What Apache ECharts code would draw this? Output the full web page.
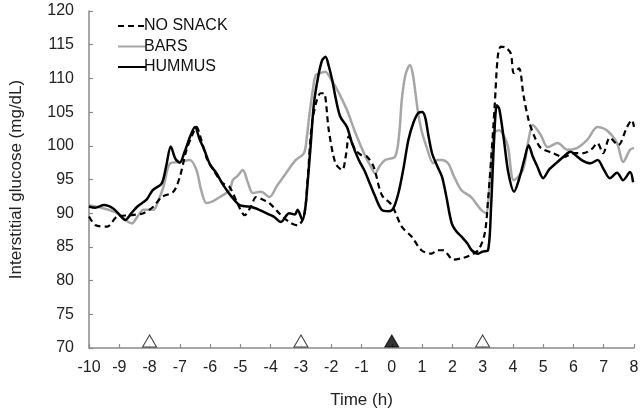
<!DOCTYPE html>
<html>
<head>
<meta charset="utf-8">
<script src="https://cdn.jsdelivr.net/npm/echarts@6/dist/echarts.min.js"></script>
<style>html,body{margin:0;padding:0;background:#fff}#c{width:642px;height:414px}</style>
</head>
<body>
<div id="c"></div>
<script>
// ---- data (time in h, glucose in mg/dL) ----
const noSnack = [[-10,89.5],[-9.78,88.2],[-9.4,88.0],[-9.07,89.5],[-8.63,89.7],[-8.2,90.0],[-7.87,91.0],[-7.6,92.4],[-7.21,93.2],[-7.0,95.4],[-6.78,99.4],[-6.6,101.5],[-6.45,102.8],[-6.3,101],[-6.1,98.0],[-5.9,96.5],[-5.6,94.5],[-5.36,93.9],[-5.1,91.5],[-4.86,89.7],[-4.65,91.0],[-4.48,92.4],[-4.25,92.0],[-4.04,91.5],[-3.72,90.0],[-3.39,88.7],[-3.11,88.2],[-2.9,89.5],[-2.78,95],[-2.62,103.8],[-2.35,107.8],[-2.24,107.8],[-2.08,102.3],[-1.86,97.4],[-1.64,96.4],[-1.5,99],[-1.42,101.4],[-1.2,99.4],[-1.0,98.6],[-0.82,98.4],[-0.6,96.9],[-0.33,92.7],[0.0,91.2],[0.33,88.0],[0.66,86.5],[0.98,84.5],[1.31,84.0],[1.5,84.5],[1.7,84.5],[2.03,83.1],[2.3,83.3],[2.52,83.6],[2.85,84.5],[3.07,87.0],[3.18,92],[3.28,97.9],[3.4,106],[3.5,113.2],[3.6,114.7],[3.75,114.6],[3.93,113.7],[4.03,110.8],[4.2,111.5],[4.35,107.5],[4.52,103.8],[4.7,101.5],[4.92,99.7],[5.34,98.9],[5.67,98.3],[6.0,98.9],[6.33,98.9],[6.6,99.5],[6.79,100.4],[6.98,98.9],[7.2,101.2],[7.48,100.1],[7.77,102.8],[7.93,103.8],[8.0,102.8]];
const bars = [[-10,91.2],[-9.51,90.7],[-9.07,90.0],[-8.8,89.0],[-8.58,88.5],[-8.4,89.5],[-8.2,90.5],[-7.87,90.5],[-7.7,92.0],[-7.54,93.9],[-7.32,97.4],[-7.0,97.6],[-6.67,97.9],[-6.45,96.4],[-6.3,93.5],[-6.12,91.5],[-5.9,91.8],[-5.68,92.4],[-5.36,93.4],[-5.25,94.9],[-5.1,95.5],[-4.92,96.4],[-4.75,94.5],[-4.59,93.0],[-4.32,93.2],[-4.04,92.4],[-3.8,94.0],[-3.5,95.9],[-3.17,97.9],[-2.9,98.9],[-2.8,101.5],[-2.73,104.3],[-2.6,108.5],[-2.51,110.5],[-2.35,110.8],[-2.19,111.0],[-2.0,109.8],[-1.8,108.3],[-1.48,105.3],[-1.2,101.9],[-0.87,98.4],[-0.7,97.0],[-0.55,95.9],[-0.4,97.0],[-0.22,97.9],[0.11,98.4],[0.25,102],[0.33,106.8],[0.45,110.5],[0.6,112.0],[0.7,110.5],[0.85,105.5],[0.98,102.3],[1.15,99.8],[1.37,97.4],[1.5,97.9],[1.64,97.9],[1.86,97.4],[2.05,95.5],[2.3,93.4],[2.62,92.4],[2.95,90.5],[3.11,90.0],[3.25,95.5],[3.38,101.9],[3.55,102.3],[3.7,101.5],[3.84,99.8],[4.03,94.9],[4.33,96.4],[4.5,100.5],[4.66,103.1],[4.92,101.6],[5.15,99.8],[5.48,100.4],[5.8,99.4],[6.13,99.7],[6.46,100.9],[6.79,102.8],[7.1,102.3],[7.44,100.4],[7.64,97.6],[7.87,99.4],[8.0,99.7]];
const hummus = [[-10,91.0],[-9.8,90.8],[-9.5,91.2],[-9.2,90.7],[-9.0,89.8],[-8.8,89.0],[-8.6,90.0],[-8.4,91.0],[-8.1,92.0],[-7.9,93.4],[-7.6,94.4],[-7.45,97.0],[-7.3,99.9],[-7.15,98.1],[-7.0,97.5],[-6.85,99.0],[-6.65,101.5],[-6.5,102.8],[-6.35,101.0],[-6.2,99.5],[-6.0,97.2],[-5.8,96.0],[-5.57,94.2],[-5.3,92.5],[-5.03,91.2],[-4.75,91.0],[-4.48,90.7],[-4.15,90.0],[-3.9,89.5],[-3.66,88.7],[-3.39,90.0],[-3.2,89.8],[-3.11,90.5],[-2.95,89.0],[-2.85,91.0],[-2.79,93.9],[-2.68,100],[-2.57,106.3],[-2.42,110.5],[-2.3,112.7],[-2.19,113.2],[-2.08,111.8],[-1.97,109.8],[-1.85,107],[-1.7,104.3],[-1.48,102.8],[-1.3,100.2],[-1.09,97.9],[-0.9,96.3],[-0.77,94.9],[-0.55,92.5],[-0.33,90.5],[-0.1,90.3],[0.05,90.7],[0.22,93.0],[0.38,96.5],[0.55,100.9],[0.72,103.5],[0.88,104.9],[1.0,105.0],[1.1,104.3],[1.2,101.8],[1.33,98.9],[1.5,97.0],[1.66,95.4],[1.8,92.5],[1.98,88.5],[2.15,87.2],[2.31,86.5],[2.5,85.5],[2.64,84.5],[2.85,84.0],[3.0,84.3],[3.18,84.5],[3.28,91.0],[3.38,101],[3.47,106.0],[3.55,105.5],[3.7,101.0],[3.85,96.0],[4.04,93.2],[4.2,95.0],[4.38,98.0],[4.52,100.1],[4.65,98.5],[4.8,97.0],[5.0,95.2],[5.2,96.5],[5.45,97.5],[5.7,98.5],[5.9,99.1],[6.1,98.5],[6.3,97.8],[6.56,97.4],[6.8,97.9],[7.0,96.5],[7.2,95.2],[7.44,96.0],[7.64,94.9],[7.87,96.1],[7.97,94.6]];
const mealTimes = [-8, -3, 3];   // open triangles
const snackTimes = [0];          // filled triangle
const markerLevel = 70;
const seriesNames = ['NO SNACK', 'BARS', 'HUMMUS'];
const yTicks = {min: 70, max: 120, step: 5};
const xTicks = {min: -10, max: 8, step: 1};

const FONT = '"Liberation Sans", Arial, sans-serif';
const chart = echarts.init(document.getElementById('c'), null, {renderer: 'canvas'});
chart.setOption({
  animation: false,
  backgroundColor: '#fff',
  textStyle: {fontFamily: FONT},
  grid: {left: 85, right: 8, top: 11, bottom: 66, containLabel: false},
  legend: {
    orient: 'vertical', left: 112, top: 13,
    itemWidth: 28, itemHeight: 14, itemGap: 4.5,
    data: seriesNames,
    itemStyle: {opacity: 0},
    textStyle: {fontFamily: FONT, fontSize: 16, color: '#111', padding: [0, 0, 0, -7]}
  },
  xAxis: {
    type: 'value', min: xTicks.min, max: xTicks.max, interval: xTicks.step,
    name: 'Time (h)', nameLocation: 'middle', nameGap: 44,
    nameTextStyle: {fontFamily: FONT, fontSize: 17, color: '#222'},
    axisLine: {onZero: false, lineStyle: {color: '#8a8a8a', width: 1.5}},
    axisTick: {inside: true, length: 4, lineStyle: {color: '#8a8a8a', width: 1.2}},
    axisLabel: {fontFamily: FONT, fontSize: 16, color: '#222', margin: 12},
    splitLine: {show: false}
  },
  yAxis: {
    type: 'value', min: yTicks.min, max: yTicks.max, interval: yTicks.step,
    name: 'Interstitial glucose (mg/dL)', nameLocation: 'middle', nameGap: 64, nameRotate: 90,
    nameTextStyle: {fontFamily: FONT, fontSize: 17, color: '#222'},
    axisLine: {show: true, onZero: false, lineStyle: {color: '#8a8a8a', width: 1.5}},
    axisTick: {show: true, inside: true, length: 4, lineStyle: {color: '#8a8a8a', width: 1.2}},
    axisLabel: {fontFamily: FONT, fontSize: 16, color: '#222', margin: 15},
    splitLine: {show: false}
  },
  series: [
    {name: seriesNames[0], type: 'line', data: noSnack, showSymbol: false, symbol: 'none', smooth: 0.3, z: 4,
     lineStyle: {color: '#000', width: 2.2, type: [6, 4]}, itemStyle: {color: '#000'}},
    {name: seriesNames[1], type: 'line', data: bars, showSymbol: false, symbol: 'none', smooth: 0.3, z: 3,
     lineStyle: {color: '#a6a6a6', width: 2.5}, itemStyle: {color: '#a6a6a6'}},
    {name: seriesNames[2], type: 'line', data: hummus, showSymbol: false, symbol: 'none', smooth: 0.3, z: 5,
     lineStyle: {color: '#000', width: 2.5}, itemStyle: {color: '#000'}},
    {type: 'scatter', data: mealTimes.map(t => [t, markerLevel]), symbol: 'triangle', symbolSize: [14, 12],
     symbolOffset: [0, -7], clip: false, z: 10, silent: true,
     itemStyle: {color: '#fff', borderColor: '#111', borderWidth: 1}},
    {type: 'scatter', data: snackTimes.map(t => [t, markerLevel]), symbol: 'triangle', symbolSize: [14, 12],
     symbolOffset: [0, -7], clip: false, z: 10, silent: true,
     itemStyle: {color: '#000', borderColor: '#000', borderWidth: 1}}
  ]
});
</script>
</body>
</html>
